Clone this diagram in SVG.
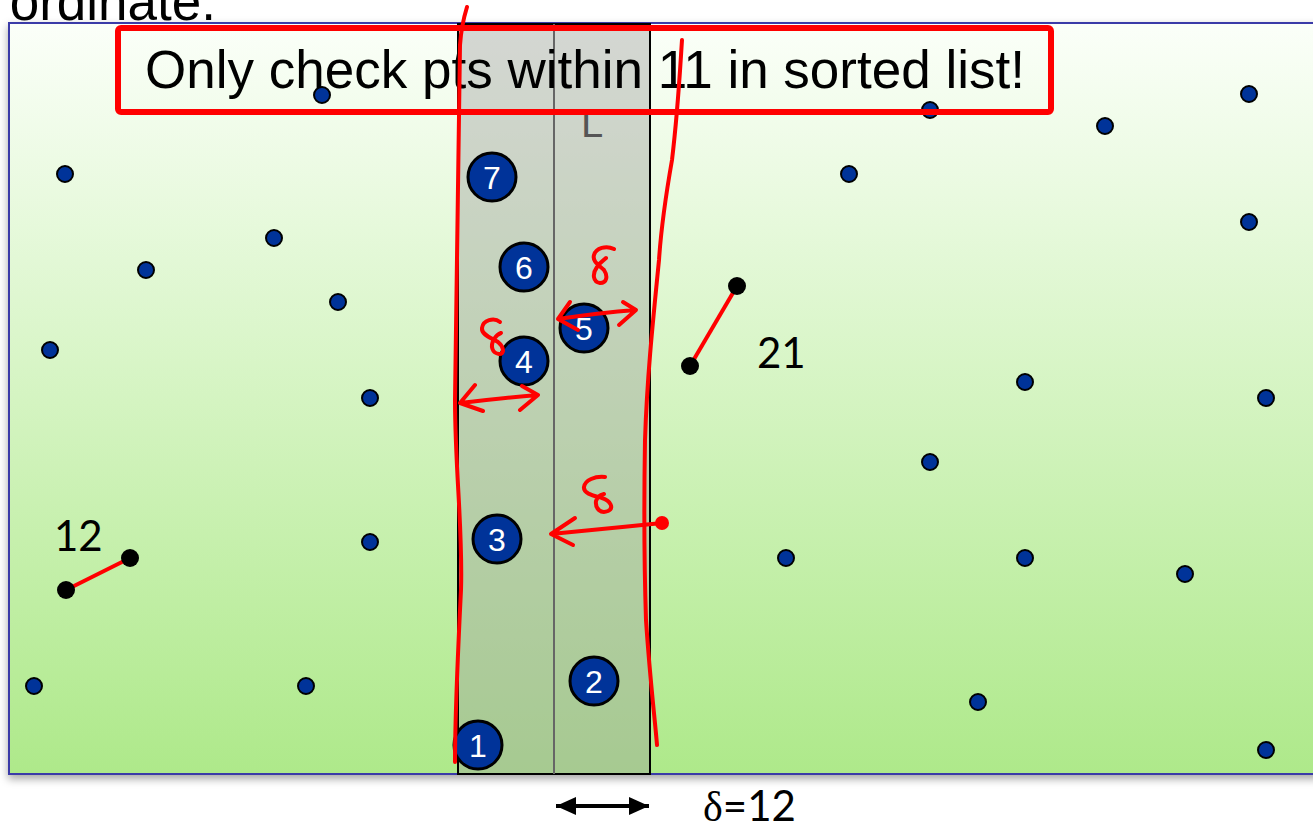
<svg xmlns="http://www.w3.org/2000/svg" width="1313" height="828" viewBox="0 0 1313 828">
<defs>
<linearGradient id="bg" x1="0" y1="0" x2="0" y2="1">
<stop offset="0" stop-color="#fbfff9"/>
<stop offset="1" stop-color="#aee98a"/>
</linearGradient>
<filter id="sh" x="-5%" y="-5%" width="110%" height="112%">
<feDropShadow dx="0" dy="4" stdDeviation="4" flood-color="#000" flood-opacity="0.35"/>
</filter>
<marker id="ah" viewBox="0 0 10 10" refX="10" refY="5" markerWidth="5" markerHeight="4.5" orient="auto-start-reverse" preserveAspectRatio="none">
<path d="M0,0 L10,5 L0,10 z" fill="#000"/>
</marker>
<style>
.pt{fill:#003399;stroke:#000;stroke-width:2}
.big{fill:#003399;stroke:#000;stroke-width:3}
.num{font-family:"Liberation Sans",Arial,sans-serif;font-size:32px;fill:#fff;text-anchor:middle}
.blk{fill:#000}
.pair{stroke:#ff0000;stroke-width:4}
.ink{fill:none;stroke:#ff0000;stroke-width:4;stroke-linecap:round;stroke-linejoin:round}
.lab{font-family:"Lato","Liberation Sans",sans-serif;font-size:42px;fill:#000}
</style>
</defs>
<text x="216" y="20" font-family="Liberation Sans, Arial, sans-serif" font-size="53" text-anchor="end">ordinate.</text>
<rect id="plane" x="9" y="23" width="1310" height="751" fill="url(#bg)" stroke="#3a3aa8" stroke-width="2" filter="url(#sh)"/>
<g id="strip">
<rect x="458" y="24" width="192" height="750" fill="#9a9a9a" fill-opacity="0.4" stroke="#000" stroke-width="2"/>
<line x1="554" y1="24" x2="554" y2="774" stroke="#666" stroke-width="2"/>
<text x="592" y="137" font-family="Liberation Sans, Arial, sans-serif" font-size="40" fill="#555" text-anchor="middle">L</text>
</g>
<g id="points">
<circle class="pt" cx="322" cy="95" r="8"/>
<circle class="pt" cx="65" cy="174" r="8"/>
<circle class="pt" cx="146" cy="270" r="8"/>
<circle class="pt" cx="274" cy="238" r="8"/>
<circle class="pt" cx="338" cy="302" r="8"/>
<circle class="pt" cx="50" cy="350" r="8"/>
<circle class="pt" cx="370" cy="398" r="8"/>
<circle class="pt" cx="370" cy="542" r="8"/>
<circle class="pt" cx="34" cy="686" r="8"/>
<circle class="pt" cx="306" cy="686" r="8"/>
<circle class="pt" cx="849" cy="174" r="8"/>
<circle class="pt" cx="930" cy="110" r="8"/>
<circle class="pt" cx="1105" cy="126" r="8"/>
<circle class="pt" cx="1249" cy="94" r="8"/>
<circle class="pt" cx="1249" cy="222" r="8"/>
<circle class="pt" cx="1025" cy="382" r="8"/>
<circle class="pt" cx="1266" cy="398" r="8"/>
<circle class="pt" cx="930" cy="462" r="8"/>
<circle class="pt" cx="786" cy="558" r="8"/>
<circle class="pt" cx="1025" cy="558" r="8"/>
<circle class="pt" cx="1185" cy="574" r="8"/>
<circle class="pt" cx="978" cy="702" r="8"/>
<circle class="pt" cx="1266" cy="750" r="8"/>
</g>
<g id="p7"><circle class="big" cx="492" cy="177" r="24"/><text class="num" x="492" y="189">7</text></g>
<g id="p6"><circle class="big" cx="524" cy="267" r="24"/><text class="num" x="524" y="279">6</text></g>
<g id="p5"><circle class="big" cx="584" cy="328" r="24"/><text class="num" x="584" y="340">5</text></g>
<g id="p4"><circle class="big" cx="524" cy="361" r="24"/><text class="num" x="524" y="373">4</text></g>
<g id="p3"><circle class="big" cx="497" cy="539" r="24"/><text class="num" x="497" y="551">3</text></g>
<g id="p2"><circle class="big" cx="594" cy="681" r="24"/><text class="num" x="594" y="693">2</text></g>
<g id="p1"><circle class="big" cx="478" cy="745" r="24"/><text class="num" x="478" y="757">1</text></g>
<g id="connectors">
<line class="pair" x1="66" y1="590" x2="130" y2="558"/>
<line class="pair" x1="690" y1="366" x2="737" y2="286"/>
<line x1="556" y1="806" x2="649" y2="806" stroke="#000" stroke-width="4" marker-start="url(#ah)" marker-end="url(#ah)"/>
</g>
<g id="pair12">
<circle class="blk" cx="66" cy="590" r="9"/>
<circle class="blk" cx="130" cy="558" r="9"/>
<text class="lab" x="54" y="551">12</text>
</g>
<g id="pair21">
<circle class="blk" cx="690" cy="366" r="9"/>
<circle class="blk" cx="737" cy="286" r="9"/>
<text class="lab" x="757" y="368">21</text>
</g>
<text id="delta" class="lab" x="703" y="821"><tspan font-family="Liberation Serif, serif">δ</tspan>=12</text>
<g id="callout">
<rect x="118" y="28" width="933" height="84" rx="3" fill="none" stroke="#ff0000" stroke-width="6"/>
<text x="585" y="88" font-family="Liberation Sans, Arial, sans-serif" font-size="53" text-anchor="middle">Only check pts within 11 in sorted list!</text>
</g>
<g id="ink">
<path class="ink" d="M467,7 C463,20 461,30 460,45 C458,120 456,250 455,400 C455,470 463,530 461,590 C458,650 455,710 455,762"/>
<path class="ink" d="M682,40 C680,70 678,110 672,160 C665,200 661,230 659,260 C652,330 647,380 645,440 C644,500 644,560 646,620 C650,680 655,720 657,745"/>
<path class="ink" d="M558,319 C585,315 610,312 636,310 M570,302 L558,319 L578,330 M623,302 L636,310 L619,325"/>
<path class="ink" d="M614,249 C606,245 596,248 594,255 C592,262 600,266 604,270 C608,276 607,283 600,283 C593,282 592,274 597,267 C600,262 604,260 606,258"/>
<path class="ink" d="M500,322 C494,317 483,320 482,328 C481,335 492,338 498,342 C504,347 505,354 499,354 C492,353 490,346 494,339 C496,336 498,334 501,333"/>
<path class="ink" d="M460,403 C485,400 512,397 538,395 M475,385 L460,403 L483,411 M522,386 L538,395 L520,410"/>
<path class="ink" d="M662,523 C625,527 590,530 551,534 M575,518 L551,534 L573,545"/>
<circle cx="662" cy="523" r="7" fill="#ff0000"/>
<path class="ink" d="M605,477 C595,476 585,480 584,487 C583,494 595,496 602,498 C611,501 614,508 608,511 C601,514 595,509 596,501 C597,497 600,495 604,494"/>
</g>
</svg>
